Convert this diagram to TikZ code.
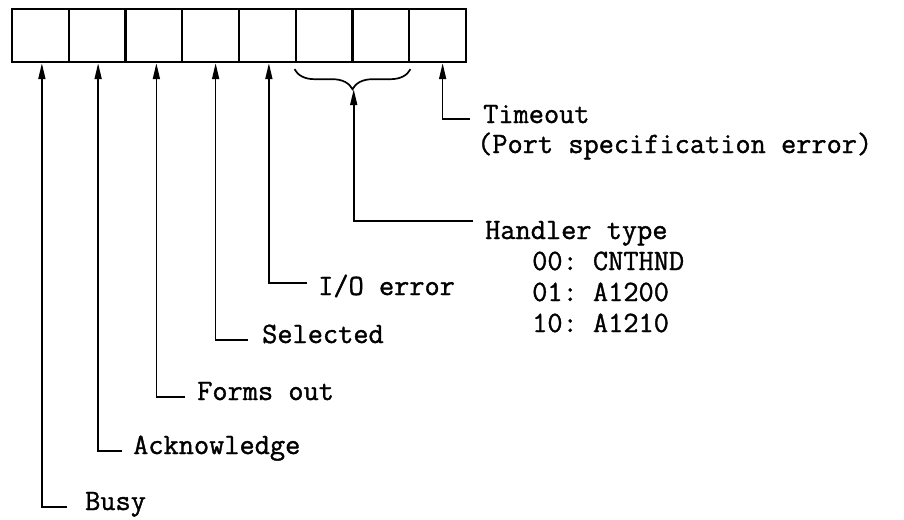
\documentclass[tikz,border=0pt]{standalone}
\usepackage{fontspec}
\setmonofont{Latin Modern Mono}[FakeBold=1.2]
\usepackage{tikz}
\usetikzlibrary{positioning,arrows.meta,decorations.pathreplacing}
\tikzset{
  cell/.style={draw,line width=2.4pt,minimum width=56.75pt,minimum height=53pt,inner sep=0pt},
  lbl/.style={anchor=west,inner sep=0pt,font=\ttfamily\fontsize{29.5}{34}\selectfont,text height=0.6em,text depth=0pt},
  arr/.style={-{Triangle[length=16pt,width=7pt]},line width=1.7pt},
  brc/.style={decorate,decoration={brace,mirror,amplitude=20pt},line width=1.7pt},
}

\begin{document}
\begin{tikzpicture}[x=1pt,y=-1pt]
  \useasboundingbox (0,0) rectangle (904,519);
  % status bits
  \foreach \i in {1,...,8}
    \node[cell] (c\i) at ({12+56.75*(\i-0.5)},35.5) {};
  \draw[brc] ([yshift=-6pt]c6.south west) -- ([yshift=-6pt]c7.south east);
  \coordinate (tip) at ([yshift=-26pt]c6.south east);
  % labels
  \node[lbl] (timeout) at (483,120) {Timeout};
  \node[lbl] (portspec) at (477,150) {(Port specification error)};
  \node[lbl] (handler) at (485,236) {Handler type};
  \node[lbl] (h00) at (532,267) {00: CNTHND};
  \node[lbl] (h01) at (532,298) {01: A1200};
  \node[lbl] (h10) at (532,329) {10: A1210};
  \node[lbl] (ioerr) at (318,292) {I/O error};
  \node[lbl] (selected) at (262,340) {Selected};
  \node[lbl] (forms) at (197,397) {Forms out};
  \node[lbl] (ack) at (133,451) {Acknowledge};
  \node[lbl] (busy) at (85,507) {Busy};
  % pointers
  \draw[arr] ([xshift=-13pt,yshift=1pt]timeout.west) -| ([xshift=5pt]c8.south);
  \draw[arr] ([xshift=-12pt,yshift=15pt]handler.west) -| (tip);
  \draw[arr] ([xshift=-11pt,yshift=9pt]ioerr.west) -| ([xshift=1.5pt]c5.south);
  \draw[arr] ([xshift=-14pt]selected.west) -| ([xshift=5pt]c4.south);
  \draw[arr] ([xshift=-12pt]forms.west) -| ([xshift=2.5pt]c3.south);
  \draw[arr] ([xshift=-11pt]ack.west) -| ([xshift=1pt]c2.south);
  \draw[arr] ([xshift=-18pt]busy.west) -| ([xshift=1.5pt]c1.south);
\end{tikzpicture}
\end{document}
